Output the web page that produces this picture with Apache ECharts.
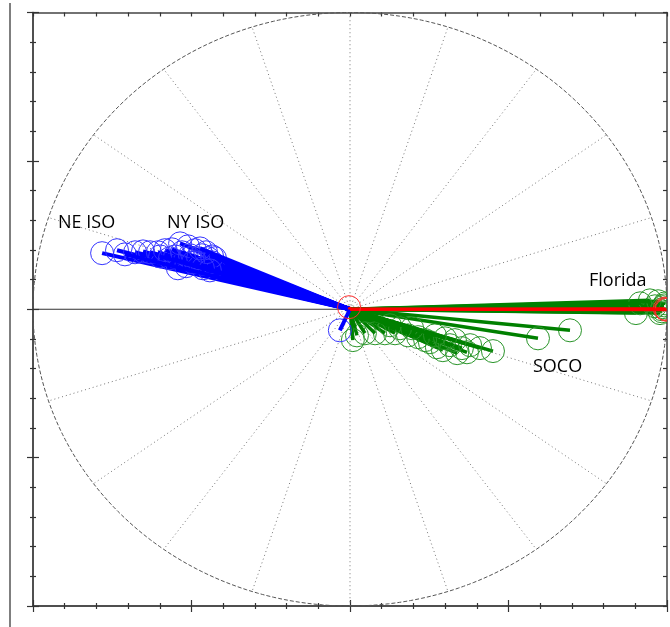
<!DOCTYPE html>
<html><head><meta charset="utf-8">
<script src="https://cdn.jsdelivr.net/npm/echarts@6/dist/echarts.min.js"></script>
<style>html,body{margin:0;padding:0;background:#fff}#c{width:670px;height:627px}</style>
</head><body><div id="c"></div><script>
// Region labels
const regionLabels = ['NE ISO', 'NY ISO', 'Florida', 'SOCO'];
// Blue vectors (NE ISO / NY ISO), unit-circle coordinates
const blueX = [-0.782,-0.735,-0.678,-0.653,-0.631,-0.606,-0.584,-0.562,-0.536,-0.511,-0.489,-0.467,-0.448,-0.486,-0.517,-0.543,-0.457,-0.435,-0.426,-0.505,-0.552,
               -0.530,-0.505,-0.479,-0.454,-0.435,-0.473,-0.495,-0.464,-0.442,-0.568,-0.599,-0.710,-0.032];
const blueY = [0.189,0.199,0.192,0.195,0.192,0.192,0.199,0.202,0.222,0.212,0.199,0.182,0.172,0.158,0.145,0.138,0.152,0.158,0.172,0.172,0.178,
               0.192,0.182,0.172,0.192,0.178,0.205,0.158,0.138,0.131,0.172,0.178,0.185,-0.071];
// Green vectors (Florida / SOCO)
const greenX = [0.994,0.991,0.987,0.984,0.978,0.902,0.962,0.997,0.946,0.972,0.915,0.984,
                0.694,0.593,0.451,0.369,0.338,0.293,0.274,0.315,0.252,0.215,0.183,0.142,0.110,0.079,0.047,0.022,0.009,0.353,0.237,0.158,0.126,0.196,
                0.379,0.410,0.331,0.300,0.268];
const greenY = [0.020,0.013,0.007,-0.007,-0.013,-0.013,0.010,0.000,0.030,0.027,0.020,0.000,
                -0.071,-0.098,-0.141,-0.145,-0.148,-0.138,-0.128,-0.121,-0.111,-0.094,-0.088,-0.081,-0.081,-0.081,-0.081,-0.088,-0.104,-0.131,-0.104,-0.064,-0.054,-0.064,
                -0.121,-0.131,-0.104,-0.098,-0.088];
// Red vectors
const redX = [0.997,0.993,0.999,-0.003];
const redY = [0.000,0.002,-0.002,0.007];
const spokeStepDeg = 18;

const chart = echarts.init(document.getElementById('c'), null, {renderer:'canvas'});

function xAx(pos, inside, len, minorLen) {
  return {type:'value', min:-1, max:1, interval:0.5, position:pos,
    axisLine:{show:true, onZero:false, lineStyle:{color:'#444', width:1.5}},
    axisTick:{show:true, inside:inside, length:len, lineStyle:{color:'#333', width:1.2}},
    minorTick:{show:true, splitNumber:5, length:minorLen, lineStyle:{color:'#333', width:1.2}},
    axisLabel:{show:false}, splitLine:{show:false}, minorSplitLine:{show:false}};
}

function vecSeries(xs, ys, color, circColor, lw, z) {
  return {type:'custom', coordinateSystem:'cartesian2d', clip:true, z:z,
    data: xs.map((x,i)=>[x, ys[i]]),
    encode:{x:0, y:1},
    renderItem(params, api) {
      const o = api.coord([0,0]);
      const p = api.coord([api.value(0), api.value(1)]);
      return {type:'group', children:[
        {type:'circle', shape:{cx:p[0], cy:p[1], r:11.5}, style:{fill:'none', stroke:circColor, lineWidth:1}},
        {type:'line', shape:{x1:o[0], y1:o[1], x2:p[0], y2:p[1]}, style:{stroke:color, lineWidth:lw}}
      ]};
    }};
}

const guideSeries = {type:'custom', coordinateSystem:'cartesian2d', z:1, silent:true,
  data:[[0,0]], encode:{x:0,y:1},
  renderItem(params, api) {
    const pts = [];
    for (let k = 0; k <= 360; k++) {
      const t = k * Math.PI / 180;
      pts.push(api.coord([Math.cos(t), Math.sin(t)]));
    }
    const o = api.coord([0,0]);
    const children = [
      {type:'polyline', shape:{points:pts}, style:{fill:'none', stroke:'#555', lineWidth:1, lineDash:[4,2]}}
    ];
    for (let a = 0; a < 360; a += spokeStepDeg) {
      if (a === 0 || a === 180) continue;
      const t = a * Math.PI / 180;
      const e = api.coord([Math.cos(t), Math.sin(t)]);
      children.push({type:'line', shape:{x1:o[0], y1:o[1], x2:e[0], y2:e[1]}, style:{stroke:'#777', lineWidth:1, lineDash:[1,3]}});
    }
    const l = api.coord([-1,0]), r = api.coord([1,0]);
    children.push({type:'line', shape:{x1:l[0], y1:l[1], x2:r[0], y2:r[1]}, style:{stroke:'#333', lineWidth:1}});
    return {type:'group', children};
  }};

const font = {fontFamily:'"Open Sans", sans-serif', fontSize:18, fill:'#000'};

chart.setOption({
  animation:false,
  backgroundColor:'#fff',
  grid:{left:33, right:3, top:12.5, bottom:21},
  xAxis:[xAx('bottom', false, 6, 3), xAx('bottom', true, 6, 3), xAx('top', true, 4, 4)],
  yAxis:[xAx('left', false, 6, 3), xAx('left', true, 6, 3), xAx('right', true, 4, 4)],
  graphic:[
    {type:'line', shape:{x1:10, y1:3, x2:10, y2:627}, style:{stroke:'#555', lineWidth:1.5}},
    {type:'text', x:58, y:222.5, style:Object.assign({text:regionLabels[0], verticalAlign:'middle'}, font)},
    {type:'text', x:167, y:222.5, style:Object.assign({text:regionLabels[1], verticalAlign:'middle'}, font)},
    {type:'text', x:589, y:281, style:Object.assign({text:regionLabels[2], verticalAlign:'middle'}, font)},
    {type:'text', x:533, y:367, style:Object.assign({text:regionLabels[3], verticalAlign:'middle'}, font)}
  ],
  series:[
    guideSeries,
    vecSeries(greenX, greenY, '#008000', '#2a952a', 3.5, 3),
    vecSeries(blueX, blueY, '#0000ff', '#3535ff', 4, 4),
    vecSeries(redX, redY, '#ff0000', '#ff3030', 3, 5)
  ]
});
</script></body></html>
